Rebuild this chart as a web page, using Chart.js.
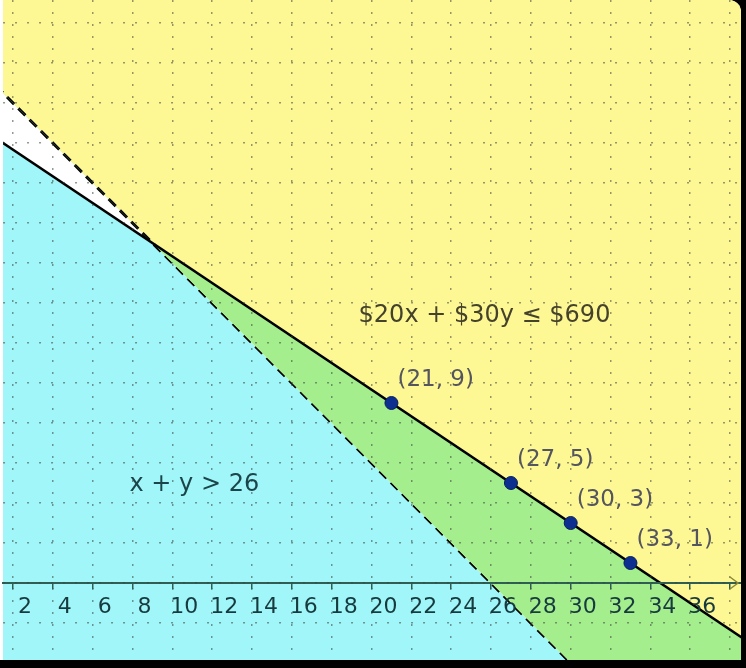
<!DOCTYPE html>
<html>
<head>
<meta charset="utf-8">
<script src="https://cdn.jsdelivr.net/npm/chart.js@4.4.1/dist/chart.umd.min.js"></script>
<style>
  html, body { margin: 0; padding: 0; background: #000; }
  #wrap { width: 741px; height: 660px; overflow: hidden; border-top-right-radius: 12px; background: #fff; }
  canvas { display: block; }
</style>
</head>
<body>
<div id="wrap"><canvas id="chart" width="741" height="660"></canvas></div>
<script>
// x axis tick labels
const xTickLabels = ['2', '4', '6', '8', '10', '12', '14', '16', '18', '20', '22', '24', '26', '28', '30', '32', '34', '36'];

// boundary lines (end points)
const budgetLine = [{ x: 0, y: 23 }, { x: 40, y: -3.67 }];   // $20x + $30y = $690
const sumLine = [{ x: 0, y: 26 }, { x: 40, y: -14 }];        // x + y = 26

// marked solutions
const solutionPoints = [{ x: 21, y: 9 }, { x: 27, y: 5 }, { x: 30, y: 3 }, { x: 33, y: 1 }];
const solutionLabels = ['(21, 9)', '(27, 5)', '(30, 3)', '(33, 1)'];

// region captions and where they sit (data units)
const regionTexts = ['$20x + $30y \u2264 $690', 'x + y > 26'];
const regionAnchors = [{ x: 19.35, y: 13.35 }, { x: 7.85, y: 4.9 }];

const YELLOW = '#fef894';
const CYAN = '#a0f6f8';
const GREEN = '#a4ee8e';
const GRID = 'rgba(60,70,60,0.55)';

const labelsPlugin = {
  id: 'labels',
  afterDraw(chart) {
    const { ctx, scales: { x, y }, chartArea } = chart;
    ctx.save();
    ctx.textBaseline = 'middle';
    ctx.textAlign = 'left';

    // arrow at the end of the x axis
    const ay = y.getPixelForValue(0);
    ctx.strokeStyle = '#8c8a3a';
    ctx.lineWidth = 1.5;
    ctx.beginPath();
    ctx.moveTo(chartArea.right - 11, ay - 6);
    ctx.lineTo(chartArea.right - 3, ay);
    ctx.lineTo(chartArea.right - 11, ay + 6);
    ctx.stroke();

    ctx.font = '24px "DejaVu Sans"';
    ctx.fillStyle = '#45422c';
    ctx.fillText(regionTexts[0], x.getPixelForValue(regionAnchors[0].x), y.getPixelForValue(regionAnchors[0].y));
    ctx.fillStyle = '#1b454a';
    ctx.fillText(regionTexts[1], x.getPixelForValue(regionAnchors[1].x), y.getPixelForValue(regionAnchors[1].y));

    ctx.font = '23px "DejaVu Sans"';
    ctx.fillStyle = '#55555f';
    solutionPoints.forEach((p, i) => {
      ctx.fillText(solutionLabels[i], x.getPixelForValue(p.x) + 6, y.getPixelForValue(p.y) - 23);
    });
    ctx.restore();
  }
};

const ctx = document.getElementById('chart').getContext('2d');
new Chart(ctx, {
  type: 'line',
  data: {
    datasets: [
      {
        label: 'solutions',
        data: solutionPoints,
        showLine: false,
        pointRadius: 6.5,
        pointBackgroundColor: '#0d2f8f',
        pointBorderColor: '#08205e',
        pointBorderWidth: 1,
        fill: false
      },
      {
        label: 'budget',
        data: budgetLine,
        borderColor: '#000',
        borderWidth: 2.5,
        pointRadius: 0,
        fill: { target: 2, above: GREEN, below: 'rgba(0,0,0,0)' }
      },
      {
        label: 'sum',
        data: sumLine,
        borderColor: '#000',
        borderWidth: 3,
        borderDash: [10, 6],
        pointRadius: 0,
        fill: { target: 'end', above: YELLOW, below: YELLOW }
      },
      {
        label: 'budget area',
        data: budgetLine,
        borderWidth: 0,
        borderColor: 'rgba(0,0,0,0)',
        pointRadius: 0,
        fill: { target: 'start', above: CYAN, below: CYAN }
      }
    ]
  },
  options: {
    responsive: false,
    animation: false,
    layout: { padding: 0, autoPadding: false },
    plugins: {
      legend: { display: false },
      tooltip: { enabled: false }
    },
    scales: {
      x: {
        type: 'linear',
        position: { y: 0 },
        min: 1.5,
        max: 38.55,
        grid: {
          z: 1,
          color: GRID,
          lineWidth: 1.5,
          tickColor: '#2f5f52',
          tickLength: 5
        },
        border: { z: 1, color: '#2f5f52', width: 2, dash: [2, 10] },
        ticks: {
          z: 1,
          stepSize: 2,
          includeBounds: false,
          maxRotation: 0,
          autoSkip: false,
          labelOffset: 12,
          padding: 6,
          color: '#173a3e',
          font: { family: 'DejaVu Sans', size: 22 },
          callback: (v) => xTickLabels.includes(String(v)) ? String(v) : ''
        }
      },
      y: {
        type: 'linear',
        position: { x: 0 },
        min: -3.85,
        max: 29.15,
        grid: {
          z: 1,
          color: GRID,
          lineWidth: 1.5,
          drawTicks: false
        },
        border: { display: false, dash: [2, 10] },
        ticks: { display: false, stepSize: 2, includeBounds: false }
      }
    }
  },
  plugins: [labelsPlugin]
});
</script>
</body>
</html>
